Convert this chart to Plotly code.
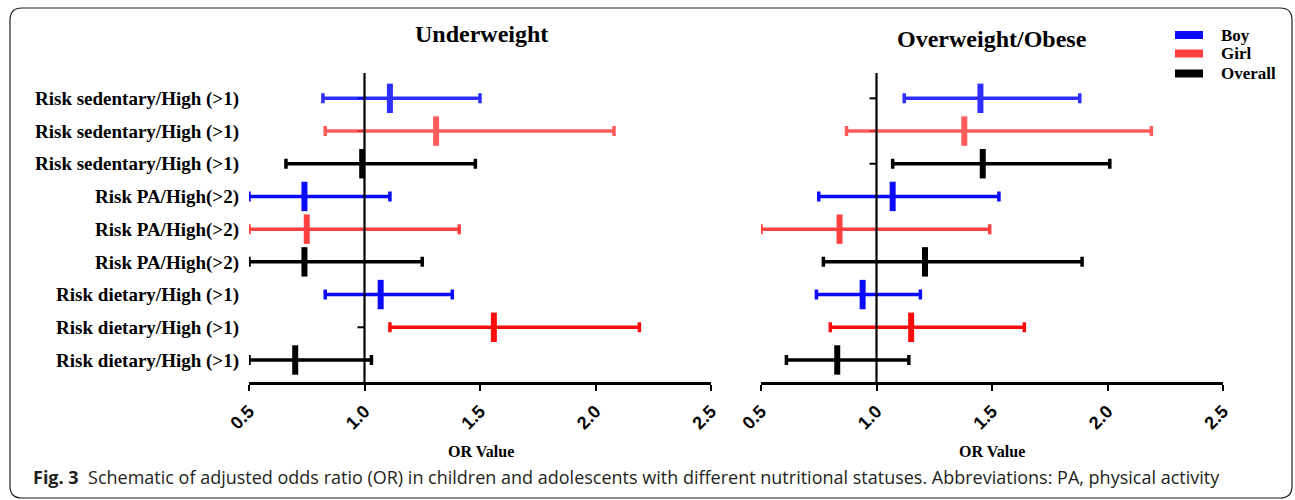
import plotly.graph_objects as go

# ---------------- data ----------------
row_labels = ["Risk sedentary/High (>1)"] * 3 + ["Risk PA/High(>2)"] * 3 + ["Risk dietary/High (>1)"] * 3
groups = ["Boy", "Girl", "Overall"] * 3
risk_domain = ["sedentary"] * 3 + ["PA"] * 3 + ["dietary"] * 3

uw_or = [1.11, 1.31, 0.99, 0.74, 0.75, 0.74, 1.07, 1.56, 0.70]
uw_lo = [0.82, 0.83, 0.66, 0.50, 0.50, 0.50, 0.83, 1.11, 0.50]
uw_hi = [1.50, 2.08, 1.48, 1.11, 1.41, 1.25, 1.38, 2.19, 1.03]

ow_or = [1.45, 1.38, 1.46, 1.07, 0.84, 1.21, 0.94, 1.15, 0.83]
ow_lo = [1.12, 0.87, 1.07, 0.75, 0.50, 0.77, 0.74, 0.80, 0.61]
ow_hi = [1.88, 2.19, 2.01, 1.53, 1.49, 1.89, 1.19, 1.64, 1.14]

x_ticks = [0.5, 1.0, 1.5, 2.0, 2.5]
x_tick_text = ["0.5", "1.0", "1.5", "2.0", "2.5"]
panel_titles = ["Underweight", "Overweight/Obese"]
legend_items = ["Boy", "Girl", "Overall"]
caption_bold = "Fig. 3"
caption_text = ("Schematic of adjusted odds ratio (OR) in children and adolescents with different "
                "nutritional statuses. Abbreviations: PA, physical activity")

# ---------------- style ----------------
W, H = 1295, 500
colors = {"Boy": "#0a0aff", "Girl": "#ff4040", "Overall": "#000000"}
color_override = {("Girl", "dietary"): "#ff0a0a"}
opac_sedentary = 0.85
serif = "Liberation Serif, Times New Roman, serif"
sans = "Liberation Sans, Arial, sans-serif"

def px_x(p):
    return p / W

def px_y(p):
    return 1 - p / H

x_domains = [[px_x(249), px_x(711)], [px_x(761), px_x(1223)]]
y_domain = [px_y(382), px_y(73)]
y_range = [8.673, -0.774]

fig = go.Figure()
panels = [(uw_or, uw_lo, uw_hi), (ow_or, ow_lo, ow_hi)]
rows = list(range(len(row_labels)))

for p, (orv, lo, hi) in enumerate(panels):
    xa = "x" if p == 0 else "x2"
    ya = "y" if p == 0 else "y2"
    for i in rows:
        g, d = groups[i], risk_domain[i]
        c = color_override.get((g, d), colors[g])
        op = opac_sedentary if (d == "sedentary" and g != "Overall") else 1.0
        fig.add_trace(go.Scatter(
            x=[orv[i]], y=[i], xaxis=xa, yaxis=ya, mode="markers", opacity=op,
            marker=dict(symbol="line-ns", size=21, color=c, line=dict(color=c, width=6)),
            error_x=dict(type="data", symmetric=False,
                         array=[hi[i] - orv[i]], arrayminus=[orv[i] - lo[i]],
                         color=c, thickness=3.5, width=5),
            showlegend=False, hoverinfo="x+y",
        ))

shapes = []
for p in range(2):
    xa = "x" if p == 0 else "x2"
    ya = "y" if p == 0 else "y2"
    # reference line at OR = 1
    shapes.append(dict(type="line", xref=xa, yref=ya + " domain", x0=1.0, x1=1.0, y0=0, y1=1,
                       line=dict(color="black", width=2.2), layer="above"))
    # small y ticks along the reference line
    for i in rows:
        shapes.append(dict(type="line", xref=xa, yref=ya, xsizemode="pixel", xanchor=1.0,
                           x0=-7, x1=0, y0=i, y1=i, line=dict(color="black", width=2), layer="below"))

# legend swatches
legend_y = [35, 53.5, 73.5]
for k, name in enumerate(legend_items):
    cy = legend_y[k]
    shapes.append(dict(type="rect", xref="paper", yref="paper",
                       x0=px_x(1175), x1=px_x(1203), y0=px_y(cy + 4), y1=px_y(cy - 4),
                       fillcolor=colors[name], line=dict(width=0)))

# rounded frame
x0, y0, x1, y1, r = 10, 8, 1292, 498, 12
def P(a, b):
    return f"{px_x(a):.6f},{px_y(b):.6f}"
path = (f"M {P(x0 + r, y0)} L {P(x1 - r, y0)} Q {P(x1, y0)} {P(x1, y0 + r)} "
        f"L {P(x1, y1 - r)} Q {P(x1, y1)} {P(x1 - r, y1)} L {P(x0 + r, y1)} "
        f"Q {P(x0, y1)} {P(x0, y1 - r)} L {P(x0, y0 + r)} Q {P(x0, y0)} {P(x0 + r, y0)} Z")
shapes.append(dict(type="path", xref="paper", yref="paper", path=path,
                   line=dict(color="#222222", width=1.2)))

annotations = []
for p, (t, cx, cy) in enumerate(zip(panel_titles, [481, 992], [34, 39])):
    annotations.append(dict(text=t, x=px_x(cx), y=px_y(cy), xref="paper", yref="paper",
                            showarrow=False, xanchor="center", yanchor="middle",
                            font=dict(family=serif, size=24, color="black", weight="bold")))
for p, cx in enumerate([481, 992]):
    annotations.append(dict(text="OR Value", x=px_x(cx), y=px_y(451), xref="paper", yref="paper",
                            showarrow=False, xanchor="center", yanchor="middle",
                            font=dict(family=serif, size=16, color="black", weight="bold")))
for k, name in enumerate(legend_items):
    cy = legend_y[k]
    annotations.append(dict(text=name, x=px_x(1219), y=px_y(cy), xref="paper", yref="paper",
                            showarrow=False, xanchor="left", yanchor="middle",
                            font=dict(family=serif, size=17, color="black", weight="bold")))
annotations.append(dict(text=f"<b>{caption_bold}</b>  {caption_text}", x=px_x(31), y=px_y(477),
                        xref="paper", yref="paper", showarrow=False, xanchor="left", yanchor="middle",
                        font=dict(family="Open Sans, sans-serif", size=18, color="#231f20")))

xaxis_common = dict(range=[0.5, 2.5], tickvals=x_ticks, ticktext=x_tick_text, tickangle=-45,
                    showline=True, linecolor="black", linewidth=2.5, ticks="outside",
                    ticklen=6, tickwidth=2.2, tickcolor="black", showgrid=False, zeroline=False,
                    ticklabelstandoff=3,
                    tickfont=dict(family=sans, size=18, color="black", weight="bold"),
                    fixedrange=True, automargin=False)

fig.update_layout(
    width=W, height=H, autosize=False,
    margin=dict(l=0, r=0, t=0, b=0, pad=0),
    paper_bgcolor="white", plot_bgcolor="white",
    showlegend=False,
    xaxis=dict(domain=x_domains[0], anchor="y", **xaxis_common),
    xaxis2=dict(domain=x_domains[1], anchor="y2", **xaxis_common),
    yaxis=dict(domain=y_domain, anchor="x", range=y_range, tickvals=rows, ticktext=row_labels,
               showline=False, ticks="", showgrid=False, zeroline=False, ticklabelstandoff=9,
               automargin=False, fixedrange=True,
               tickfont=dict(family=serif, size=19, color="black", weight="bold")),
    yaxis2=dict(domain=y_domain, anchor="x2", range=y_range, tickvals=rows, showticklabels=False,
                showline=False, ticks="", showgrid=False, zeroline=False, automargin=False,
                fixedrange=True),
    shapes=shapes, annotations=annotations,
)

fig.write_html("out.html", config={"displayModeBar": False},
               post_script="document.body.style.margin='0';")
